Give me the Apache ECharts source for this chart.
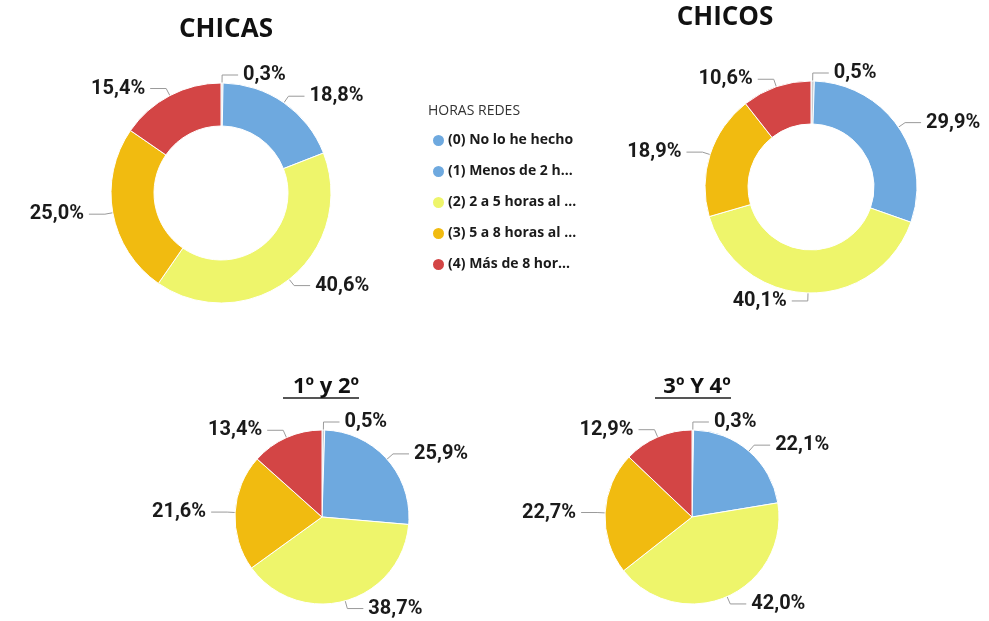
<!DOCTYPE html>
<html>
<head>
<meta charset="utf-8">
<script src="https://cdn.jsdelivr.net/npm/echarts@6/dist/echarts.min.js"></script>
<style>
html, body { margin: 0; padding: 0; background: #fff; }
#chart { width: 989px; height: 621px; }
</style>
</head>
<body>
<div id="chart"></div>
<script>
var categories = ['(0) No lo he hecho', '(1) Menos de 2 h...', '(2) 2 a 5 horas al ...', '(3) 5 a 8 horas al ...', '(4) Más de 8 hor...'];
var chicas = [0.3, 18.8, 40.6, 25.0, 15.4];
var chicos = [0.5, 29.9, 40.1, 18.9, 10.6];
var curso12 = [0.5, 25.9, 38.7, 21.6, 13.4];
var curso34 = [0.3, 22.1, 42.0, 22.7, 12.9];

var sliceColors = ['#c9ccd1', '#6ea9df', '#eef56b', '#f1bb10', '#d34545'];
var legendColors = ['#6ea9df', '#6ea9df', '#eef56b', '#f1bb10', '#d34545'];
var labelFont = 'Roboto, sans-serif';
var titleFont = '"Open Sans", sans-serif';

function toData(vals) {
    return vals.map(function (v, i) {
        return { name: categories[i], value: v, itemStyle: { color: sliceColors[i] } };
    });
}

function pieSeries(name, vals, center, radius) {
    return {
        name: name,
        type: 'pie',
        center: center,
        radius: radius,
        startAngle: 90,
        clockwise: true,
        avoidLabelOverlap: false,
        data: toData(vals),
        itemStyle: { borderColor: '#fff', borderWidth: 1 },
        label: {
            formatter: function (p) { return p.value.toFixed(1).replace('.', ',') + '%'; },
            color: '#1a1a1a',
            fontSize: 20,
            fontWeight: 'bold',
            fontFamily: labelFont
        },
        labelLine: {
            length: 8,
            length2: 16,
            lineStyle: { color: '#9a9a9a', width: 1 }
        },
        emphasis: { disabled: true }
    };
}

var myChart = echarts.init(document.getElementById('chart'));
var option = {
    animation: false,
    title: [
        { text: 'CHICAS', left: 221, top: 12, textAlign: 'center',
          textStyle: { fontSize: 26, fontWeight: 'bold', color: '#111', fontFamily: titleFont } },
        { text: 'CHICOS', left: 720, top: 0, textAlign: 'center',
          textStyle: { fontSize: 26, fontWeight: 'bold', color: '#111', fontFamily: titleFont } },
        { text: '1º y 2º', left: 321, top: 371, textAlign: 'center',
          textStyle: { fontSize: 22, fontWeight: 'bold', color: '#111', fontFamily: titleFont } },
        { text: '3º Y 4º', left: 692, top: 371, textAlign: 'center',
          textStyle: { fontSize: 22, fontWeight: 'bold', color: '#111', fontFamily: titleFont } }
    ],
    graphic: [
        { type: 'line', shape: { x1: 283, y1: 398, x2: 359, y2: 398 }, style: { stroke: '#555', lineWidth: 2 } },
        { type: 'line', shape: { x1: 655, y1: 398, x2: 731, y2: 398 }, style: { stroke: '#555', lineWidth: 2 } },
        { type: 'text', left: 428, top: 104, style: { text: 'HORAS REDES', fontSize: 14, fill: '#333', fontFamily: titleFont } }
    ],
    legend: {
        orient: 'vertical',
        left: 426,
        top: 128,
        itemGap: 16,
        icon: 'circle',
        itemWidth: 13,
        itemHeight: 13,
        selectedMode: false,
        textStyle: { fontSize: 14, fontWeight: 'bold', color: '#1a1a1a', fontFamily: titleFont, padding: [0, 0, 0, -2] },
        data: categories.map(function (c, i) {
            return { name: c, itemStyle: { color: legendColors[i] } };
        })
    },
    series: [
        pieSeries('CHICAS', chicas, [221, 193], [67, 110]),
        pieSeries('CHICOS', chicos, [811, 187], [63, 106]),
        pieSeries('1º y 2º', curso12, [322, 517], [0, 87]),
        pieSeries('3º Y 4º', curso34, [692, 517], [0, 87])
    ]
};

if (option && typeof option === "object") {
    myChart.setOption(option, true);
}
</script>
</body>
</html>
